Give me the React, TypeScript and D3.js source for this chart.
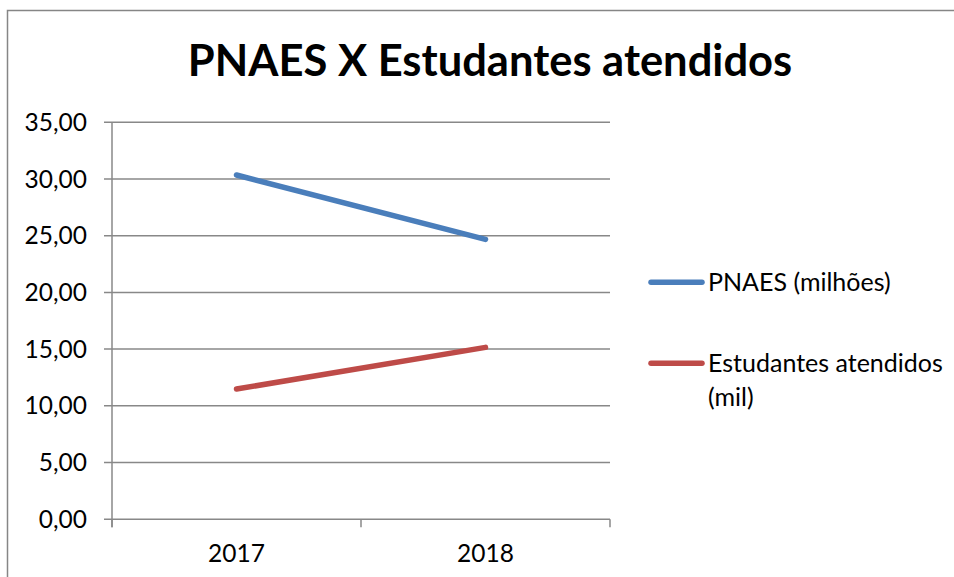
import React, { useRef, useEffect } from 'react';
import * as d3 from 'd3';

const years = ['2017', '2018'];
const pnaes = [30.35, 24.68];
const estudantes = [11.48, 15.15];
const yTicks = [0, 5, 10, 15, 20, 25, 30, 35];

const seriesList = [
  { name: ['PNAES (milhões)'], values: pnaes, color: '#4A7EBB' },
  { name: ['Estudantes atendidos', '(mil)'], values: estudantes, color: '#BE4B48' }
];

const FONT = 'Lato, "Open Sans", sans-serif';

export default function App() {
  const svgRef = useRef<SVGSVGElement>(null);

  useEffect(() => {
    const width = 954;
    const height = 577;
    const svg = d3.select(svgRef.current);
    svg.selectAll('*').remove();
    svg.attr('width', width).attr('height', height);

    svg.append('rect')
      .attr('width', width)
      .attr('height', height)
      .attr('fill', '#fff');

    // chart frame, only top and left edges are visible
    svg.append('path')
      .attr('d', `M7.5,${height} V10.5 H${width}`)
      .attr('fill', 'none')
      .attr('stroke', '#868686')
      .attr('stroke-width', 1.5);

    svg.append('text')
      .attr('x', 490)
      .attr('y', 76)
      .attr('text-anchor', 'middle')
      .attr('font-family', FONT)
      .attr('font-weight', 'bold')
      .attr('font-size', 43.5)
      .attr('fill', '#000')
      .text('PNAES X Estudantes atendidos');

    const plot = { left: 112, right: 610, top: 122.3, bottom: 519.2 };

    const x = d3.scaleBand<string>()
      .domain(years)
      .range([plot.left, plot.right])
      .padding(0);

    const y = d3.scaleLinear()
      .domain([0, 35])
      .range([plot.bottom, plot.top]);

    const fmt = (v: number) => v.toFixed(2).replace('.', ',');

    // gridlines
    svg.append('g')
      .selectAll('line')
      .data(yTicks)
      .enter()
      .append('line')
      .attr('x1', plot.left - 8)
      .attr('x2', plot.right)
      .attr('y1', d => y(d))
      .attr('y2', d => y(d))
      .attr('stroke', '#888')
      .attr('stroke-width', 1.5);

    // y axis line
    svg.append('line')
      .attr('x1', plot.left)
      .attr('x2', plot.left)
      .attr('y1', plot.top)
      .attr('y2', plot.bottom + 8)
      .attr('stroke', '#888')
      .attr('stroke-width', 1.5);

    // x tick marks at category boundaries
    const bounds = [plot.left, ...years.map(d => (x(d) as number) + x.bandwidth())];
    svg.append('g')
      .selectAll('line')
      .data(bounds)
      .enter()
      .append('line')
      .attr('x1', d => d)
      .attr('x2', d => d)
      .attr('y1', plot.bottom)
      .attr('y2', plot.bottom + 8)
      .attr('stroke', '#888')
      .attr('stroke-width', 1.5);

    // y labels
    svg.append('g')
      .selectAll('text')
      .data(yTicks)
      .enter()
      .append('text')
      .attr('x', 87)
      .attr('y', d => y(d))
      .attr('dy', '0.35em')
      .attr('text-anchor', 'end')
      .attr('font-family', FONT)
      .attr('font-size', 24.5)
      .attr('fill', '#000')
      .text(d => fmt(d));

    // x labels
    svg.append('g')
      .selectAll('text')
      .data(years)
      .enter()
      .append('text')
      .attr('x', d => (x(d) as number) + x.bandwidth() / 2)
      .attr('y', 562)
      .attr('text-anchor', 'middle')
      .attr('font-family', FONT)
      .attr('font-size', 24.5)
      .attr('fill', '#000')
      .text(d => d);

    // lines
    const line = d3.line<number>()
      .x((d, i) => (x(years[i]) as number) + x.bandwidth() / 2)
      .y(d => y(d));

    seriesList.forEach(s => {
      svg.append('path')
        .datum(s.values)
        .attr('d', line)
        .attr('fill', 'none')
        .attr('stroke', s.color)
        .attr('stroke-width', 5.5)
        .attr('stroke-linecap', 'round');
    });

    // legend
    const legendY = [282.3, 363.3];
    seriesList.forEach((s, i) => {
      const g = svg.append('g');
      g.append('line')
        .attr('x1', 651)
        .attr('x2', 702)
        .attr('y1', legendY[i])
        .attr('y2', legendY[i])
        .attr('stroke', s.color)
        .attr('stroke-width', 5.5)
        .attr('stroke-linecap', 'round');
      s.name.forEach((t, j) => {
        g.append('text')
          .attr('x', 708)
          .attr('y', legendY[i] + j * 33.5)
          .attr('dy', '0.35em')
          .attr('font-family', FONT)
          .attr('font-size', 25)
          .attr('fill', '#000')
          .text(t);
      });
    });
  }, []);

  return (
    <div style={{ position: 'absolute', left: 0, top: 0 }}>
      <svg ref={svgRef} style={{ display: 'block' }} />
    </div>
  );
}
